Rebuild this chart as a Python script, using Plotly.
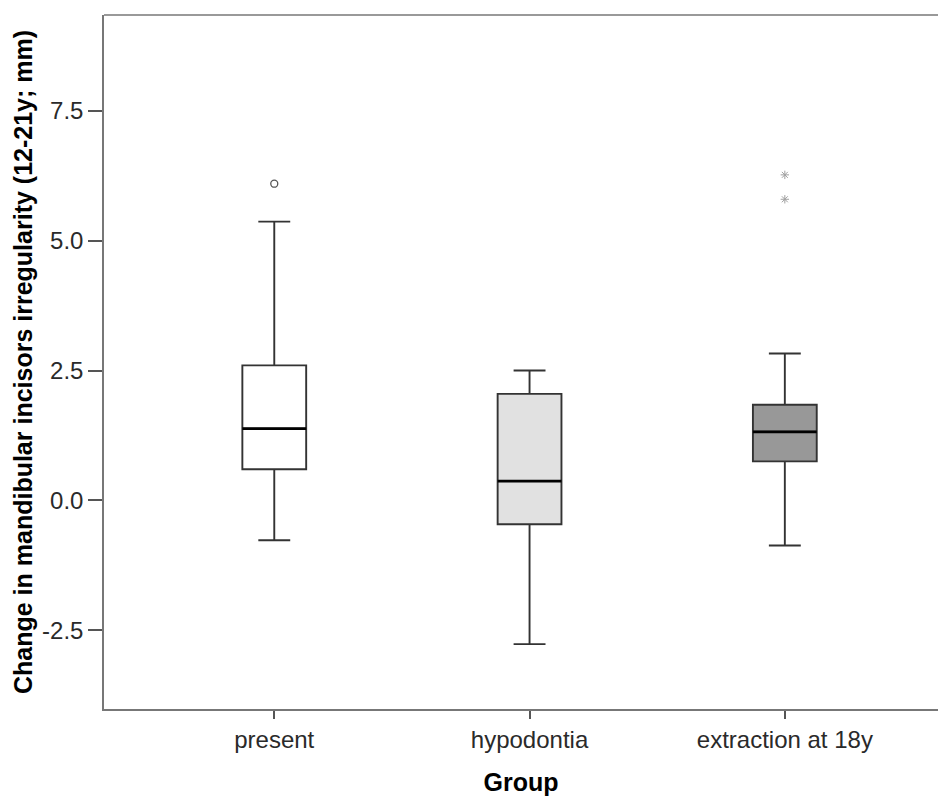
import plotly.graph_objects as go

groups = ["present", "hypodontia", "extraction at 18y"]
q1 = [0.60, -0.46, 0.75]
median = [1.38, 0.37, 1.32]
q3 = [2.60, 2.05, 1.84]
lower = [-0.77, -2.77, -0.87]
upper = [5.37, 2.50, 2.83]
fills = ["#ffffff", "#e1e1e1", "#989898"]
outlier_x = [0]
outlier_y = [6.10]
extreme_x = [2, 2]
extreme_y = [6.27, 5.80]

FONT = "Liberation Sans, Arial, sans-serif"
BOXW = 0.25

fig = go.Figure()
for i, g in enumerate(groups):
    fig.add_trace(go.Box(
        x=[i], q1=[q1[i]], median=[median[i]], q3=[q3[i]],
        lowerfence=[lower[i]], upperfence=[upper[i]],
        width=BOXW, whiskerwidth=0.5,
        fillcolor=fills[i], line=dict(color="#333333", width=1.9),
        boxpoints=False, showlegend=False, hoverinfo="skip",
    ))
    fig.add_trace(go.Scatter(
        x=[i - BOXW / 2, i + BOXW / 2], y=[median[i], median[i]],
        mode="lines", line=dict(color="#000000", width=2.8),
        showlegend=False, hoverinfo="skip",
    ))

fig.add_trace(go.Scatter(
    x=outlier_x, y=outlier_y, mode="markers",
    marker=dict(symbol="circle-open", size=7, color="#555555", line=dict(width=1.3)),
    showlegend=False,
))
fig.add_trace(go.Scatter(
    x=extreme_x, y=extreme_y, mode="markers",
    marker=dict(symbol="asterisk-open", size=7, color="#a0a0a0", line=dict(width=1, color="#a0a0a0")),
    showlegend=False,
))

fig.add_shape(type="line", xref="paper", yref="paper", x0=0, x1=1, y0=1, y1=1,
              line=dict(color="#777777", width=1.5))

fig.update_layout(
    width=940, height=796,
    margin=dict(l=104, r=2, t=15, b=87),
    paper_bgcolor="white", plot_bgcolor="white",
    font=dict(family=FONT, size=24, color="#2a2a2a"),
    xaxis=dict(
        range=[-0.667, 2.6], tickmode="array", tickvals=[0, 1, 2], ticktext=groups,
        showgrid=False, zeroline=False, showline=True, linecolor="#777777", linewidth=1.5,
        ticks="outside", ticklen=8, tickcolor="#555555", tickwidth=1.5,
        tickfont=dict(family=FONT, size=24, color="#2a2a2a"),
        title=dict(text="<b>Group</b>", font=dict(family=FONT, size=25, color="#000000"), standoff=24),
    ),
    yaxis=dict(
        range=[-4.02, 9.35], tickmode="array", tickvals=[-2.5, 0, 2.5, 5, 7.5],
        ticktext=["-2.5", "0.0", "2.5", "5.0", "7.5"],
        showgrid=False, zeroline=False, showline=True, linecolor="#777777", linewidth=1.5,
        ticks="outside", ticklen=14, tickcolor="#555555", tickwidth=1.5,
        tickfont=dict(family=FONT, size=24, color="#2a2a2a"),
        title=dict(text="<b>Change in mandibular incisors irregularity (12-21y; mm)</b>",
                   font=dict(family=FONT, size=25, color="#000000"), standoff=2),
    ),
)

fig.write_html("out.html", config={"displayModeBar": False},
               post_script="document.body.style.margin='0';")
